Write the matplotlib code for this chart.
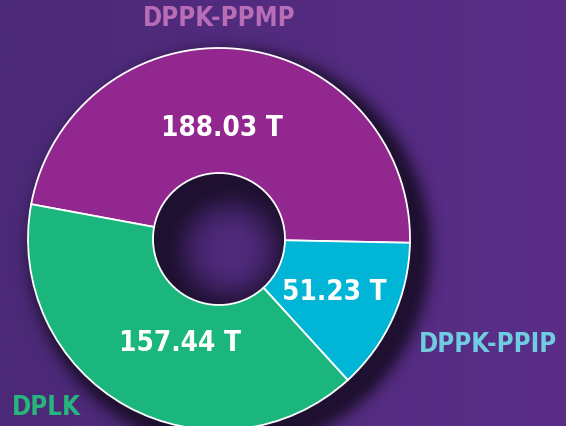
import numpy as np
import matplotlib.pyplot as plt
from matplotlib.colors import LinearSegmentedColormap

labels = ["DPPK-PPMP", "DPPK-PPIP", "DPLK"]
values = [188.03, 51.23, 157.44]
value_text = ["188.03 T", "51.23 T", "157.44 T"]
colors = ["#92278F", "#00B5D6", "#1BB67E"]
label_colors = ["#B86DB6", "#70CCE0", "#26B57A"]

W, H = 566, 426
cx, cy = 219, H - 239
R, r_in = 191, 66

fig = plt.figure(figsize=(W / 100, H / 100), dpi=100)
ax = fig.add_axes([0, 0, 1, 1])

# background gradient
bg = LinearSegmentedColormap.from_list("bg", ["#4B2977", "#5A2E88"])
grad = np.linspace(0, 1, 256).reshape(1, -1)
ax.imshow(grad, cmap=bg, extent=[0, W, 0, H], aspect="auto", zorder=0)

# soft shadow of the ring, offset down-right
xx, yy = np.meshgrid(np.arange(W) + 0.5, np.arange(H) + 0.5)
d = np.hypot(xx - (cx + 11), yy - (cy - 11))
outer = np.where(d > R, 0.8 * np.exp(-((d - R) / 13.0) ** 2), 0)
inner = np.where(d < r_in, 0.85 * np.exp(-((r_in - d) / 30.0) ** 2), 0)
alpha = np.where(d >= r_in, np.where(d <= R, 0.85, outer), inner)
shadow = np.zeros((H, W, 4))
shadow[..., 0] = 0.09
shadow[..., 1] = 0.05
shadow[..., 2] = 0.14
shadow[..., 3] = alpha
ax.imshow(shadow, extent=[0, W, 0, H], origin="lower", aspect="auto", zorder=1)

wedges, _ = ax.pie(values, colors=colors, startangle=169.5, counterclock=False,
                   center=(cx, cy), radius=R, frame=True,
                   wedgeprops=dict(width=R - r_in, edgecolor="white", linewidth=1.3))
for w in wedges:
    w.set_zorder(2)

font = ["DejaVu Sans"]
value_pos = [(222, H - 128), (334, H - 292), (180, H - 343)]
for (x, y), t in zip(value_pos, value_text):
    ax.text(x, y, t, color="white", fontsize=20, fontweight="bold",
            family=font, fontstretch="condensed",
            ha="center", va="center", zorder=3)

label_pos = [(219, H - 19, "center"), (419, H - 345, "left"), (12, H - 408, "left")]
for (x, y, ha), t, c in zip(label_pos, labels, label_colors):
    ax.text(x, y, t, color=c, fontsize=18.5, fontweight="bold",
            family=font, fontstretch="condensed",
            ha=ha, va="center", zorder=3)

ax.set_xlim(0, W)
ax.set_ylim(0, H)
ax.set_aspect("auto")
ax.axis("off")

fig.savefig("out.png", dpi=100)
